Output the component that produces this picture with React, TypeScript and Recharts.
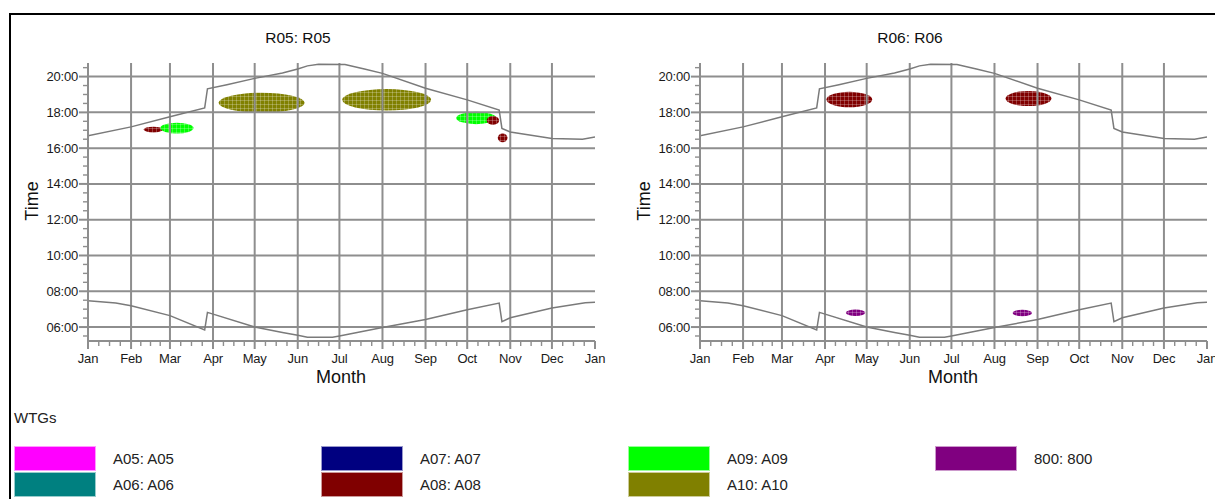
import { ComposedChart, Line, XAxis, YAxis, ReferenceLine, ReferenceArea } from 'recharts';

const monthStarts = [0, 31, 59, 90, 120, 151, 181, 212, 243, 273, 304, 334, 365];
const monthLabels = ['Jan', 'Feb', 'Mar', 'Apr', 'May', 'Jun', 'Jul', 'Aug', 'Sep', 'Oct', 'Nov', 'Dec', 'Jan'];
const hourLines = [6, 8, 10, 12, 14, 16, 18, 20];

// sunset / sunrise (day of year, decimal hour)
const sunsetDays = [0, 31, 59, 84, 86, 100, 120, 140, 151, 158, 166, 185, 199, 212, 243, 273, 296, 298, 304, 334, 356, 365];
const sunsetHours = [16.69, 17.19, 17.75, 18.25, 19.32, 19.55, 19.9, 20.2, 20.42, 20.6, 20.69, 20.68, 20.42, 20.18, 19.35, 18.7, 18.13, 17.1, 16.9, 16.54, 16.5, 16.62];
const sunriseDays = [0, 20, 31, 59, 84, 86, 120, 140, 151, 158, 176, 181, 212, 243, 273, 296, 298, 304, 334, 358, 365];
const sunriseHours = [7.47, 7.35, 7.19, 6.64, 5.84, 6.82, 6.0, 5.7, 5.54, 5.43, 5.43, 5.5, 5.97, 6.42, 6.97, 7.34, 6.3, 6.52, 7.07, 7.36, 7.38];

const wtgIds = ['A05', 'A06', 'A07', 'A08', 'A09', 'A10', '800'];
const wtgNames = ['A05: A05', 'A06: A06', 'A07: A07', 'A08: A08', 'A09: A09', 'A10: A10', '800: 800'];
const wtgColors = ['#ff00ff', '#008080', '#000080', '#800000', '#00ff00', '#808000', '#800080'];

// flicker periods: wtg, first/last day, earliest/latest hour
const r05Blobs = [
  { wtg: 'A08', from: 40, to: 54, low: 16.88, high: 17.2 },
  { wtg: 'A09', from: 52, to: 76, low: 16.82, high: 17.42 },
  { wtg: 'A10', from: 94, to: 156, low: 17.98, high: 19.1 },
  { wtg: 'A10', from: 183, to: 247, low: 18.1, high: 19.3 },
  { wtg: 'A09', from: 265, to: 294, low: 17.34, high: 18.03 },
  { wtg: 'A08', from: 287, to: 296, low: 17.3, high: 17.8 },
  { wtg: 'A08', from: 295, to: 302, low: 16.33, high: 16.82 },
];
const r06Blobs = [
  { wtg: 'A08', from: 91, to: 124, low: 18.28, high: 19.15 },
  { wtg: 'A08', from: 220, to: 253, low: 18.35, high: 19.2 },
  { wtg: '800', from: 105, to: 119, low: 6.62, high: 6.98 },
  { wtg: '800', from: 225, to: 239, low: 6.6, high: 6.97 },
];

const GRID = '#8e8e8e';
const FONT = '"Liberation Sans", Arial, sans-serif';

const sunset = sunsetDays.map((d, i) => ({ d, h: sunsetHours[i] }));
const sunrise = sunriseDays.map((d, i) => ({ d, h: sunriseHours[i] }));

const hourTicks = Array.from({ length: 31 }, (_, i) => 5.5 + i * 0.5);
const dayTicks: number[] = [];
monthStarts.forEach((m, i) => {
  dayTicks.push(m);
  if (i < 12) {
    const len = monthStarts[i + 1] - m;
    [1, 2, 3].forEach((k) => dayTicks.push(m + (len * k) / 4));
  }
});

const colorOf = (wtg: string) => wtgColors[wtgIds.indexOf(wtg)];

function fmtHour(v: number) {
  return String(v).padStart(2, '0') + ':00';
}

function HourTick(props: any) {
  const { x, y, payload } = props;
  const v = payload.value;
  const major = v % 2 === 0;
  return (
    <g>
      <line x1={x - (major ? 9 : 5)} x2={x} y1={y} y2={y} stroke={GRID} strokeWidth={major ? 2 : 1.4} />
      {major && (
        <text x={x - 10} y={y} dy={4.5} textAnchor="end" fontSize={13} fill="#1a1a1a" fontFamily={FONT} letterSpacing={-0.2}>
          {fmtHour(v)}
        </text>
      )}
    </g>
  );
}

function DayTick(props: any) {
  const { x, y, payload } = props;
  const idx = monthStarts.indexOf(payload.value);
  const major = idx >= 0;
  return (
    <g>
      <line x1={x} x2={x} y1={y} y2={y + (major ? 8 : 5)} stroke={GRID} strokeWidth={major ? 2 : 1.4} />
      {major && (
        <text x={x} y={y + 22} textAnchor="middle" fontSize={13} fill="#1a1a1a" fontFamily={FONT} letterSpacing={-0.2}>
          {monthLabels[idx]}
        </text>
      )}
    </g>
  );
}

function blobShape(color: string, id: string) {
  return (p: any) => {
    const cx = p.x + p.width / 2;
    const cy = p.y + p.height / 2;
    return (
      <g>
        <defs>
          <pattern id={id} width={4} height={4} patternUnits="userSpaceOnUse">
            <rect width={4} height={4} fill={color} />
            <path d="M0 0.5H4M0.5 0V4" stroke="rgba(255,255,255,0.3)" strokeWidth={0.8} />
          </pattern>
        </defs>
        <ellipse cx={cx} cy={cy} rx={p.width / 2} ry={p.height / 2} fill={`url(#${id})`} />
      </g>
    );
  };
}

type Blob = { wtg: string; from: number; to: number; low: number; high: number };

function Panel({ title, blobs, left, tag }: { title: string; blobs: Blob[]; left: number; tag: string }) {
  return (
    <div style={{ position: 'absolute', left, top: 0, width: 612, height: 400 }}>
      <div style={{ position: 'absolute', left: 0, width: 596, top: 29, textAlign: 'center', fontSize: 15.5, color: '#111' }}>
        {title}
      </div>
      <div
        style={{
          position: 'absolute',
          left: 32,
          top: 201,
          fontSize: 18,
          color: '#111',
          transform: 'translate(-50%, -50%) rotate(-90deg)',
        }}
      >
        Time
      </div>
      <div style={{ position: 'absolute', left: 291, width: 100, top: 367, textAlign: 'center', fontSize: 18, color: '#111' }}>
        Month
      </div>
      <ComposedChart
        width={610}
        height={400}
        margin={{ top: 63, right: 15, bottom: 29, left: 0 }}
        style={{ position: 'absolute', left: 0, top: 0 }}
      >
        <XAxis
          type="number"
          dataKey="d"
          domain={[0, 365]}
          ticks={dayTicks}
          interval={0}
          height={30}
          tickSize={0}
          tickMargin={0}
          tickLine={false}
          tick={<DayTick />}
          axisLine={{ stroke: GRID, strokeWidth: 2 }}
          allowDataOverflow
        />
        <YAxis
          type="number"
          domain={[5.22, 20.76]}
          ticks={hourTicks}
          interval={0}
          width={88}
          tickSize={0}
          tickMargin={0}
          tickLine={false}
          tick={<HourTick />}
          axisLine={{ stroke: GRID, strokeWidth: 2 }}
          allowDataOverflow
        />
        {hourLines.map((h) => (
          <ReferenceLine key={`h${h}`} y={h} stroke={GRID} strokeWidth={2} />
        ))}
        {monthStarts.slice(1, 12).map((m) => (
          <ReferenceLine key={`m${m}`} x={m} stroke={GRID} strokeWidth={2} />
        ))}
        <Line data={sunset} dataKey="h" type="linear" stroke="#7a7a7a" strokeWidth={1.5} dot={false} isAnimationActive={false} />
        <Line data={sunrise} dataKey="h" type="linear" stroke="#7a7a7a" strokeWidth={1.5} dot={false} isAnimationActive={false} />
        {blobs.map((b, i) => (
          <ReferenceArea
            key={i}
            x1={b.from}
            x2={b.to}
            y1={b.low}
            y2={b.high}
            shape={blobShape(colorOf(b.wtg), `${tag}-p${i}`)}
          />
        ))}
      </ComposedChart>
    </div>
  );
}

export default function App() {
  const left = [0, 2, 4, 6];
  return (
    <div
      style={{
        position: 'absolute',
        left: 0,
        top: 0,
        width: 1215,
        height: 499,
        background: '#fff',
        fontFamily: FONT,
        overflow: 'hidden',
      }}
    >
      <div style={{ position: 'absolute', left: 9, top: 13, width: 1206, height: 2, background: '#000' }} />
      <div style={{ position: 'absolute', left: 9, top: 13, width: 2, height: 486, background: '#000' }} />
      <Panel title="R05: R05" blobs={r05Blobs} left={0} tag="r05" />
      <Panel title="R06: R06" blobs={r06Blobs} left={612} tag="r06" />
      <div style={{ position: 'absolute', left: 14, top: 409, fontSize: 15, color: '#222' }}>WTGs</div>
      {left.map((start, col) => (
        <div key={col} style={{ position: 'absolute', left: 14 + col * 307, top: 445 }}>
          {wtgNames.slice(start, start + 2).map((name, j) => (
            <div key={name} style={{ display: 'flex', alignItems: 'center', height: 26 }}>
              <div
                style={{
                  width: 82,
                  height: 25,
                  background: wtgColors[start + j],
                  boxShadow: 'inset 0 0 0 1px rgba(255,255,255,0.6)',
                }}
              />
              <div style={{ marginLeft: 17, fontSize: 15, color: '#222' }}>{name}</div>
            </div>
          ))}
        </div>
      ))}
    </div>
  );
}
